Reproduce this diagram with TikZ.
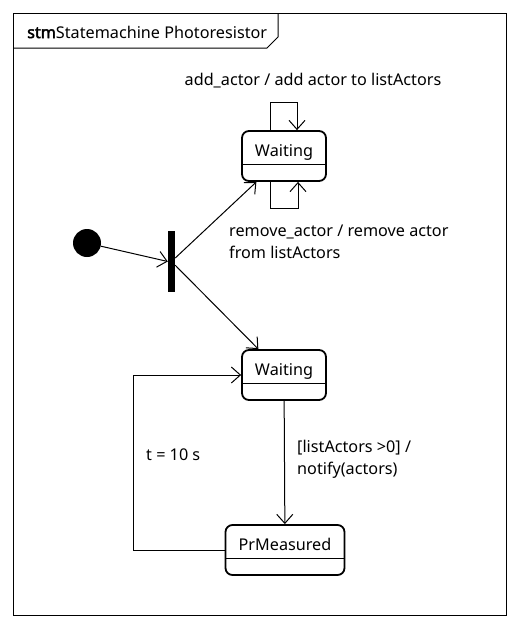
\documentclass[tikz,border=0pt]{standalone}
\usepackage{fontspec}
\setmainfont{Noto Sans}[AutoFakeBold=2.5]
\usetikzlibrary{arrows.meta}
\tikzset{
  state/.style={draw, line width=1.8pt, rounded corners=7pt, inner xsep=0pt, inner ysep=0pt,
    text height=25pt, text depth=25pt,
    path picture={\draw[line width=1pt] ([yshift=-33pt]path picture bounding box.north west)
      -- ([yshift=-33pt]path picture bounding box.north east);}},
  trans/.style={-{Straight Barb[length=9pt,width=16pt]}, line width=1pt},
  lbl/.style={align=left, inner sep=0pt}
}
\begin{document}
\begin{tikzpicture}[x=1pt, y=-1pt, font=\fontsize{16.2}{22}\selectfont]
    \useasboundingbox (0,0) rectangle (520,629);
    % frame with title tab
    \draw[line width=1pt] (13,13) rectangle (506,615);
    \draw[line width=1pt] (13,48) -- (267,48) -- (278,37) -- (278,13);
    \node[anchor=west, inner sep=0pt] (title) at (27,32) {\textbf{stm}Statemachine Photoresistor};
    % states
    \node[circle, fill, minimum size=28pt, inner sep=0pt] (init) at (87,243) {};
    \node[fill, minimum width=7pt, minimum height=61pt, inner sep=0pt] (fork) at (171.5,261.5) {};
    \node[state, minimum width=84pt] (waitA) at (284,156) {Waiting};
    \node[state, minimum width=84pt] (waitB) at (284,375) {Waiting};
    \node[state, minimum width=119pt] (measured) at (285,550) {PrMeasured};
    % transitions
    \draw[trans] (init) -- (fork.west);
    \draw[trans] (fork) -- (waitA);
    \draw[trans] (fork) -- (waitB);
    \draw[trans] ([xshift=-14pt]waitA.north) -- ++(0,-28) -| ([xshift=13pt]waitA.north);
    \draw[trans] ([xshift=-14pt]waitA.south) -- ++(0,27) -| ([xshift=14pt]waitA.south);
    \draw[trans] (waitB) -- (measured);
    \draw[trans] (measured.west) -| (133,375) -- (waitB.west);
    % labels
    \node[lbl] (addLbl) at (313,81) {add\_actor / add actor to listActors};
    \node[lbl, anchor=west] (removeLbl) at (229,242) {remove\_actor / remove actor\\from listActors};
    \node[lbl, anchor=west] (notifyLbl) at (297,459) {[listActors >0] /\\notify(actors)};
    \node[lbl, anchor=west] (timeLbl) at (146,455) {t = 10 s};
\end{tikzpicture}
\end{document}
